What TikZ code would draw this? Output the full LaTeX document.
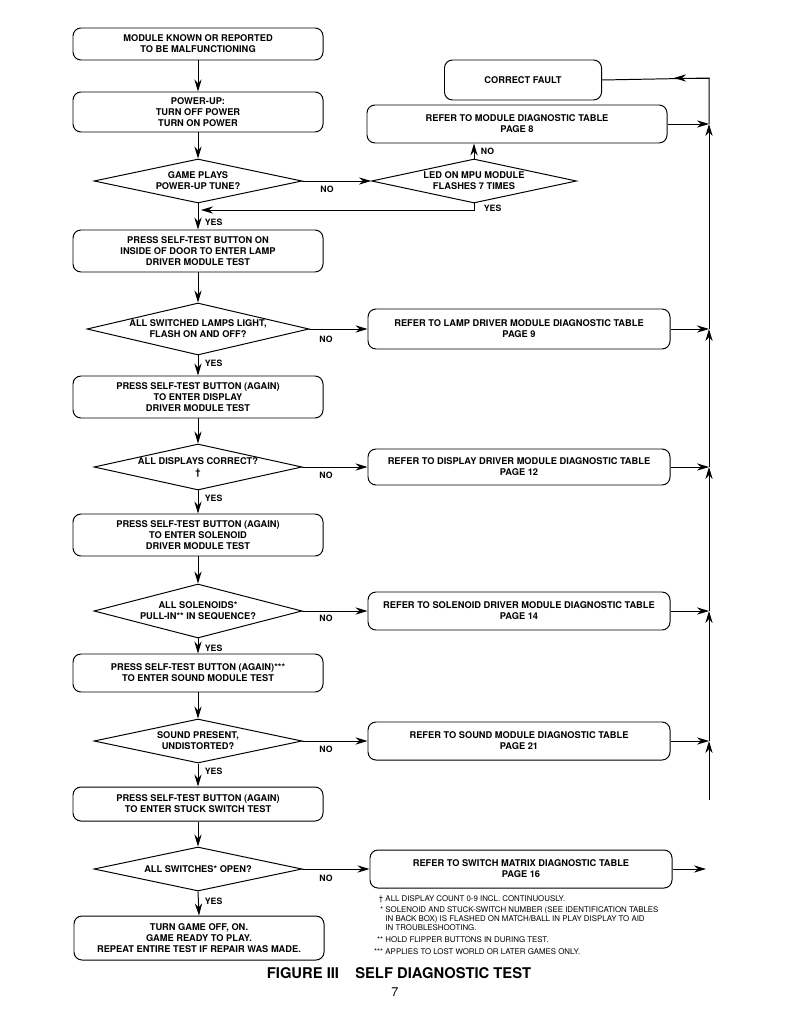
\documentclass[tikz,border=0pt]{standalone}
\usepackage{fontspec}
\setmainfont{TeX Gyre Heros}
\usetikzlibrary{arrows.meta,positioning,shapes.geometric}
\newcommand\flowfont{\bfseries\fontsize{6.6}{7.9}\selectfont}
\newcommand\notefont{\fontsize{5.6}{6.4}\selectfont}

\begin{document}
\begin{tikzpicture}[x=0.25mm,y=-0.25mm,>={Stealth[length=3mm,width=1.8mm]},line width=0.7pt,
  stepbox/.style={draw,rounded corners=2mm,align=center,inner sep=1pt,font=\flowfont,minimum width=62.5mm},
  refbox/.style={stepbox,minimum width=75.5mm,minimum height=9.5mm},
  query/.style={draw,diamond,inner sep=0pt,minimum width=52mm,minimum height=11mm},
  qtext/.style={align=center,font=\flowfont,inner sep=0pt},
  tag/.style={font=\bfseries\fontsize{6.2}{7}\selectfont,inner sep=1pt},
  note/.style={anchor=north west,align=left,font=\notefont,inner sep=0pt}]
 \useasboundingbox (0,0) rectangle (791,1024);
 % left column
 \node[stepbox,minimum height=8mm] (start) at (198,44) {MODULE KNOWN OR REPORTED\\TO BE MALFUNCTIONING};
 \node[stepbox,minimum height=10mm] (power) at (198,112) {POWER-UP:\\TURN OFF POWER\\TURN ON POWER};
 \node[query,label={[qtext]center:{GAME PLAYS\\POWER-UP TUNE?}}] (qtune) at (198,181) {};
 \node[stepbox,minimum height=10.5mm] (lamptest) at (198,251) {PRESS SELF-TEST BUTTON ON\\INSIDE OF DOOR TO ENTER LAMP\\DRIVER MODULE TEST};
 \node[query,minimum width=55.5mm,minimum height=13mm,label={[qtext]center:{ALL SWITCHED LAMPS LIGHT,\\FLASH ON AND OFF?}}] (qlamps) at (198,329) {};
 \node[stepbox,minimum height=10.5mm] (disptest) at (198,397) {PRESS SELF-TEST BUTTON (AGAIN)\\TO ENTER DISPLAY\\DRIVER MODULE TEST};
 \node[query,minimum height=11.5mm,label={[qtext]center:{ALL DISPLAYS CORRECT?\\\textdagger}}] (qdisp) at (198,467) {};
 \node[stepbox,minimum height=10.5mm] (soltest) at (198,535) {PRESS SELF-TEST BUTTON (AGAIN)\\TO ENTER SOLENOID\\DRIVER MODULE TEST};
 \node[query,minimum height=13.5mm,label={[qtext]center:{ALL SOLENOIDS*\\PULL-IN** IN SEQUENCE?}}] (qsol) at (198,611) {};
 \node[stepbox,minimum height=9.5mm] (soundtest) at (198,673) {PRESS SELF-TEST BUTTON (AGAIN)***\\TO ENTER SOUND MODULE TEST};
 \node[query,label={[qtext]center:{SOUND PRESENT,\\UNDISTORTED?}}] (qsound) at (198,741) {};
 \node[stepbox,minimum height=8.5mm] (switchtest) at (198,804) {PRESS SELF-TEST BUTTON (AGAIN)\\TO ENTER STUCK SWITCH TEST};
 \node[query,label={[qtext]center:{ALL SWITCHES* OPEN?}}] (qswitch) at (198,869) {};
 \node[stepbox,minimum height=11mm] (done) at (199,938) {TURN GAME OFF, ON.\\GAME READY TO PLAY.\\REPEAT ENTIRE TEST IF REPAIR WAS MADE.};
 % right column
 \node[stepbox,minimum width=39.25mm,minimum height=10mm] (fault) at (523,80) {CORRECT FAULT};
 \node[refbox,minimum width=75mm] (refmod) at (517,124) {REFER TO MODULE DIAGNOSTIC TABLE\\PAGE 8};
 \node[query,minimum width=51.25mm,label={[qtext]center:{LED ON MPU MODULE\\FLASHES 7 TIMES}}] (qled) at (474,181) {};
 \node[refbox,minimum height=10mm] (reflamp) at (519,329) {REFER TO LAMP DRIVER MODULE DIAGNOSTIC TABLE\\PAGE 9};
 \node[refbox,minimum height=9mm] (refdisp) at (519,467) {REFER TO DISPLAY DRIVER MODULE DIAGNOSTIC TABLE\\PAGE 12};
 \node[refbox] (refsol) at (519,611) {REFER TO SOLENOID DRIVER MODULE DIAGNOSTIC TABLE\\PAGE 14};
 \node[refbox] (refsound) at (519,741) {REFER TO SOUND MODULE DIAGNOSTIC TABLE\\PAGE 21};
 \node[refbox] (refswitch) at (521,869) {REFER TO SWITCH MATRIX DIAGNOSTIC TABLE\\PAGE 16};
 % bus on the right
 \coordinate (bustop) at (709,78);
 \coordinate (busbot) at (709,800);
 \coordinate (faulttip) at (674,78);
 \coordinate (yesjoin) at (201,210);
 \coordinate (switchend) at (706,869);
 % yes branch
 \foreach \a/\b in {start/power,power/qtune,qtune/lamptest,lamptest/qlamps,qlamps/disptest,disptest/qdisp,
   qdisp/soltest,soltest/qsol,qsol/soundtest,soundtest/qsound,qsound/switchtest,switchtest/qswitch,qswitch/done}
   \draw[->] (\a.south) -- (\b.north);
 % no branch
 \foreach \a/\b in {qtune/qled,qlamps/reflamp,qdisp/refdisp,qsol/refsol,qsound/refsound,qswitch/refswitch}
   \draw[->] (\a.east) -- (\b.west);
 \draw[->] (qled.north) -- (qled.north |- refmod.south);
 \draw[->] (qled.south) |- (yesjoin);
 \foreach \r in {refmod,reflamp,refdisp,refsol,refsound}
   \draw[->] (\r.east) -- (\r.east -| bustop);
 \draw[->] (refswitch.east) -- (switchend);
 \draw[->] (busbot) -- (refsound.east -| bustop);
 \draw[->] (refsound.east -| bustop) -- (refsol.east -| bustop);
 \draw[->] (refsol.east -| bustop) -- (refdisp.east -| bustop);
 \draw[->] (refdisp.east -| bustop) -- (reflamp.east -| bustop);
 \draw[->] (reflamp.east -| bustop) -- (refmod.east -| bustop);
 \draw (refmod.east -| bustop) -- (bustop) -- (fault.east);
 \draw[->] (bustop) -- (faulttip);
 % yes / no tags
 \node[tag,anchor=west] (yes1) at (203,222) {YES};
 \node[tag,anchor=west] (yes2) at (203,363) {YES};
 \node[tag,anchor=west] (yes3) at (203,498) {YES};
 \node[tag,anchor=west] (yes4) at (203,648) {YES};
 \node[tag,anchor=west] (yes5) at (203,771) {YES};
 \node[tag,anchor=west] (yes6) at (203,901) {YES};
 \node[tag,anchor=west] (yes7) at (482,208) {YES};
 \node[tag] (no1) at (327,189) {NO};
 \node[tag] (no2) at (326,339) {NO};
 \node[tag] (no3) at (326,475) {NO};
 \node[tag] (no4) at (326,618) {NO};
 \node[tag] (no5) at (326,749) {NO};
 \node[tag] (no6) at (326,878) {NO};
 \node[tag,anchor=west] (no7) at (479,151) {NO};
 % footnotes
 \node[note] (note1) at (385,895) {\llap{\textdagger\ }ALL DISPLAY COUNT 0-9 INCL. CONTINUOUSLY.};
 \node[note] (note2) at (385,906) {\llap{*\ }SOLENOID AND STUCK-SWITCH NUMBER (SEE IDENTIFICATION TABLES\\IN BACK BOX) IS FLASHED ON MATCH/BALL IN PLAY DISPLAY TO AID\\IN TROUBLESHOOTING.};
 \node[note] (note3) at (385,936) {\llap{**\ }HOLD FLIPPER BUTTONS IN DURING TEST.};
 \node[note] (note4) at (385,948) {\llap{***\ }APPLIES TO LOST WORLD OR LATER GAMES ONLY.};
 \node[font=\bfseries\fontsize{10.5}{12}\selectfont] (title) at (399,973) {FIGURE III\hspace{1.1em}SELF DIAGNOSTIC TEST};
 \node[font=\fontsize{9}{10}\selectfont] (pagenum) at (395,992) {7};
\end{tikzpicture}
\end{document}
